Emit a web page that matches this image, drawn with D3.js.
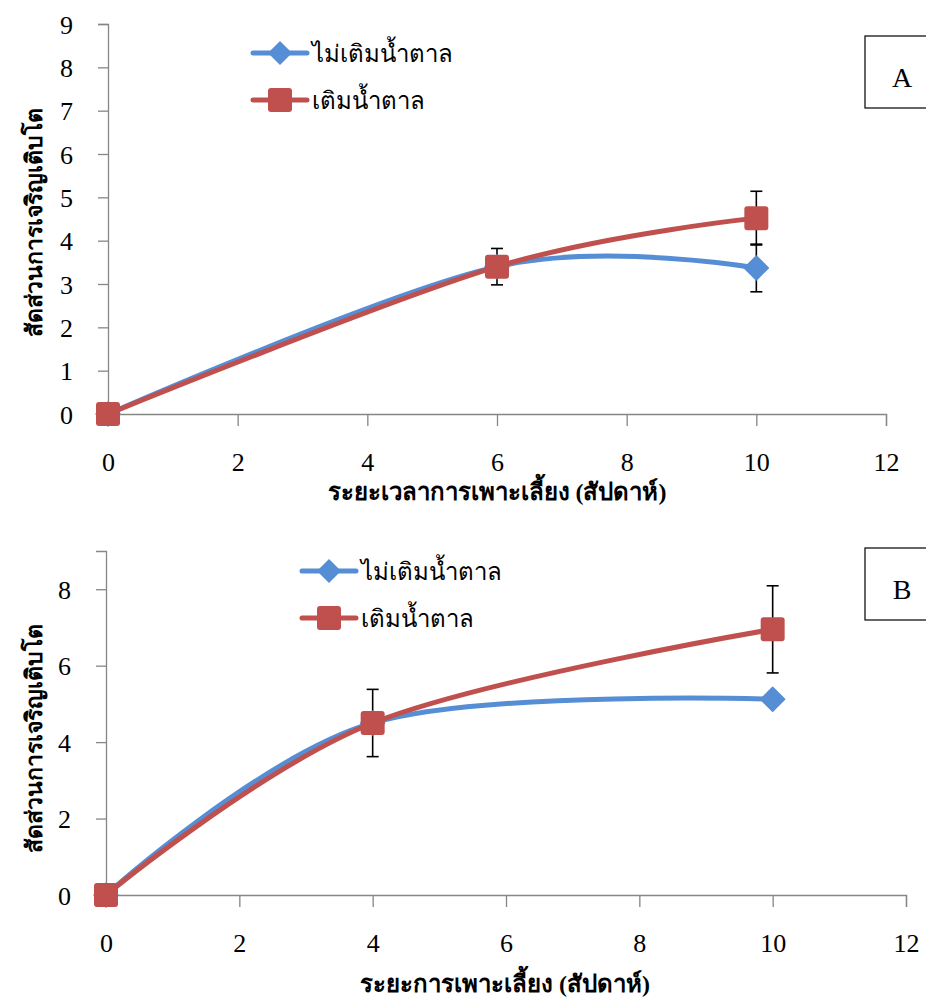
<!DOCTYPE html>
<html>
<head>
<meta charset="utf-8">
<script src="https://cdn.jsdelivr.net/npm/d3@7"></script>
<style>
  body { margin: 0; background: #fff; }
  svg { display: block; }
  text { font-family: "Liberation Serif", "Times New Roman", serif; fill: #000; }
</style>
</head>
<body>
<svg id="chart" width="926" height="998"></svg>
<script>
// series labels
const seriesNames = ["ไม่เติมน้ำตาล", "เติมน้ำตาล"];
const seriesColors = ["#558ED5", "#C0504D"];

// panel A
const weeksA = [0, 6, 10];
const noSugarA = [0, 3.4, 3.37];
const sugarA = [0, 3.4, 4.52];
const noSugarErrA = [0, 0, 0.55];
const sugarErrA = [0, 0.42, 0.62];

// panel B
const weeksB = [0, 4, 10];
const noSugarB = [0, 4.5, 5.12];
const sugarB = [0, 4.5, 6.95];
const noSugarErrB = [0, 0, 0];
const sugarErrB = [0, 0.88, 1.14];

const xTicks = [0, 2, 4, 6, 8, 10, 12];
const yTicksA = [0, 1, 2, 3, 4, 5, 6, 7, 8, 9];
const yTicksB = [0, 2, 4, 6, 8];

const yTitle = "สัดส่วนการเจริญเติบโต";
const xTitleA = "ระยะเวลาการเพาะเลี้ยง (สัปดาห์)";
const xTitleB = "ระยะการเพาะเลี้ยง (สัปดาห์)";

const svg = d3.select("#chart");

function panel(opt) {
  const g = svg.append("g");
  const x = d3.scaleLinear().domain([0, 12]).range([opt.left, opt.right]);
  const y = d3.scaleLinear().domain([0, 9]).range([opt.bottom, opt.top]);

  // axes
  const xAxis = g.append("g")
    .attr("transform", `translate(0,${opt.bottom})`)
    .call(d3.axisBottom(x).tickValues(xTicks).tickSize(12).tickPadding(27));
  const yAxis = g.append("g")
    .attr("transform", `translate(${opt.left},0)`)
    .call(d3.axisLeft(y).tickValues(opt.yTicks).tickSize(10).tickPadding(25));
  [xAxis, yAxis].forEach(a => {
    a.select(".domain").attr("stroke", "#868686").attr("stroke-width", 1.3);
    a.selectAll(".tick line").attr("stroke", "#868686").attr("stroke-width", 1.3);
    a.selectAll(".tick text")
      .style("font-family", "'Liberation Serif', serif")
      .style("font-size", "26px").attr("fill", "#000");
  });
  yAxis.selectAll(".tick text").attr("dy", "0.35em");

  // titles
  g.append("text")
    .attr("x", opt.xTitleX).attr("y", opt.xTitleY)
    .attr("text-anchor", "middle")
    .style("font-size", "24px").style("font-weight", "bold")
    .text(opt.xTitle);
  g.append("text")
    .attr("transform", `translate(${opt.yTitleX},${opt.yTitleY}) rotate(-90)`)
    .attr("text-anchor", "middle")
    .style("font-size", "23px").style("font-weight", "bold")
    .text(yTitle);

  const line = d3.line()
    .x(d => x(d[0])).y(d => y(d[1]))
    .curve(d3.curveCardinal.tension(0));

  const series = [opt.noSugar, opt.sugar];
  const errs = [opt.noSugarErr, opt.sugarErr];

  series.forEach((vals, i) => {
    const pts = opt.weeks.map((w, j) => [w, vals[j], errs[i][j]]);
    g.append("path")
      .datum(pts)
      .attr("fill", "none")
      .attr("stroke", seriesColors[i])
      .attr("stroke-width", 5)
      .attr("stroke-linecap", "round")
      .attr("d", line);
  });

  // error bars
  series.forEach((vals, i) => {
    const pts = opt.weeks.map((w, j) => [w, vals[j], errs[i][j]]).filter(d => d[2] > 0);
    const eb = g.append("g").attr("stroke", "#000").attr("stroke-width", 1.6);
    pts.forEach(d => {
      const cx = x(d[0]);
      eb.append("line").attr("x1", cx).attr("x2", cx)
        .attr("y1", y(d[1] - d[2])).attr("y2", y(d[1] + d[2]));
      [d[1] - d[2], d[1] + d[2]].forEach(v => {
        eb.append("line").attr("x1", cx - 6).attr("x2", cx + 6)
          .attr("y1", y(v)).attr("y2", y(v));
      });
    });
  });

  // markers
  const pA = opt.weeks.map((w, j) => [w, opt.noSugar[j]]);
  g.append("g").selectAll("path").data(pA).join("path")
    .attr("d", "M0,-12L12,0L0,12L-12,0Z")
    .attr("transform", d => `translate(${x(d[0])},${y(d[1])})`)
    .attr("fill", seriesColors[0]).attr("stroke", seriesColors[0])
    .attr("stroke-linejoin", "round").attr("stroke-width", 1.5);
  const pB = opt.weeks.map((w, j) => [w, opt.sugar[j]]);
  g.append("g").selectAll("rect").data(pB).join("rect")
    .attr("x", d => x(d[0]) - 12).attr("y", d => y(d[1]) - 12)
    .attr("width", 24).attr("height", 24).attr("rx", 3)
    .attr("fill", seriesColors[1]);

  // legend
  seriesNames.forEach((name, i) => {
    const ly = opt.legendY + i * 47;
    const lg = g.append("g");
    lg.append("line")
      .attr("x1", opt.legendX).attr("x2", opt.legendX + 54)
      .attr("y1", ly).attr("y2", ly)
      .attr("stroke", seriesColors[i]).attr("stroke-width", 5)
      .attr("stroke-linecap", "round");
    const mx = opt.legendX + 27;
    if (i === 0) {
      lg.append("path").attr("d", "M0,-12L12,0L0,12L-12,0Z")
        .attr("transform", `translate(${mx},${ly})`)
        .attr("fill", seriesColors[0]);
    } else {
      lg.append("rect").attr("x", mx - 12).attr("y", ly - 12)
        .attr("width", 24).attr("height", 24).attr("rx", 3)
        .attr("fill", seriesColors[1]);
    }
    lg.append("text")
      .attr("x", opt.legendX + 59).attr("y", ly + 9)
      .style("font-size", "24px")
      .text(name);
  });

  // label box
  g.append("rect")
    .attr("x", opt.boxX).attr("y", opt.boxY)
    .attr("width", 70).attr("height", 72)
    .attr("fill", "#fff").attr("stroke", "#000").attr("stroke-width", 1.2);
  g.append("text")
    .attr("x", opt.boxX + 37).attr("y", opt.boxY + 51)
    .attr("text-anchor", "middle")
    .style("font-size", "28px")
    .text(opt.label);
}

panel({
  left: 108, right: 886, top: 24, bottom: 414, yTicks: yTicksA,
  weeks: weeksA, noSugar: noSugarA, sugar: sugarA,
  noSugarErr: noSugarErrA, sugarErr: sugarErrA,
  xTitle: xTitleA, xTitleX: 497, xTitleY: 500,
  yTitleX: 42, yTitleY: 222,
  legendX: 253, legendY: 53, boxX: 865, boxY: 36, label: "A"
});

panel({
  left: 106, right: 906, top: 551, bottom: 895, yTicks: yTicksB,
  weeks: weeksB, noSugar: noSugarB, sugar: sugarB,
  noSugarErr: noSugarErrB, sugarErr: sugarErrB,
  xTitle: xTitleB, xTitleX: 505, xTitleY: 992,
  yTitleX: 42, yTitleY: 738,
  legendX: 302, legendY: 571, boxX: 865, boxY: 548, label: "B"
});
</script>
</body>
</html>
